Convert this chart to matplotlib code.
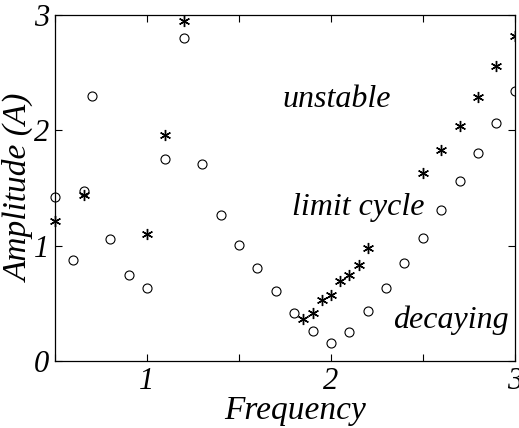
import numpy as np
import matplotlib
matplotlib.use("Agg")
import matplotlib.pyplot as plt
from matplotlib.patches import Rectangle

# circles (o)
freq_o = [0.5, 0.6, 0.66, 0.70, 0.8, 0.9, 1.0, 1.1, 1.2, 1.3, 1.4, 1.5, 1.6,
          1.7, 1.8, 1.9, 2.0, 2.1, 2.2, 2.3, 2.4, 2.5, 2.6, 2.7, 2.8, 2.9, 3.0]
amp_o = [1.42, 0.88, 1.47, 2.30, 1.06, 0.75, 0.63, 1.75, 2.80, 1.71, 1.27, 1.01, 0.81,
         0.61, 0.42, 0.26, 0.16, 0.25, 0.43, 0.63, 0.85, 1.07, 1.31, 1.56, 1.80, 2.06, 2.34]

# asterisks (*)
freq_s = [0.5, 0.66, 1.0, 1.1, 1.2, 1.85, 1.9, 1.95, 2.0, 2.05, 2.1, 2.15, 2.2,
          2.5, 2.6, 2.7, 2.8, 2.9, 3.0]
amp_s = [1.21, 1.44, 1.10, 1.96, 2.95, 0.36, 0.42, 0.53, 0.57, 0.69, 0.75, 0.83, 0.98,
         1.63, 1.83, 2.04, 2.29, 2.56, 2.82]

xticks = [0.5, 1, 1.5, 2, 2.5, 3]
xticklabels = ['', '1', '', '2', '', '3']
yticks = [0, 1, 2, 3]

font = 'Liberation Serif'

fig = plt.figure(figsize=(5.19, 4.28), dpi=100)
ax = fig.add_axes([0.106, 0.1565, 0.886, 0.8085])

l1, = ax.plot(freq_o, amp_o, 'o', mfc='none', mec='black', ms=6.5, mew=0.8)
l2, = ax.plot(freq_s, amp_s, ls='none', marker=(6, 2, 0), color='black', ms=8, mew=1.0)

# markers spill past the left edge but are cut at the right edge
for ln in (l1, l2):
    r = Rectangle((-0.05, -0.05), 1.05, 1.1, transform=ax.transAxes)
    ln.set_clip_path(r)

ax.set_xlim(0.5, 3)
ax.set_ylim(0, 3)
ax.set_xticks(xticks)
ax.set_xticklabels(xticklabels)
ax.set_yticks(yticks)
ax.tick_params(direction='in', length=5, width=0.8, top=True, right=True,
               labelsize=22, pad=4)
for lab in ax.get_xticklabels() + ax.get_yticklabels():
    lab.set_fontfamily(font)
    lab.set_fontstyle('italic')
for s in ax.spines.values():
    s.set_linewidth(0.9)

ax.set_xlabel('Frequency', fontsize=24, family=font, style='italic')
ax.set_ylabel('Amplitude (A)', fontsize=24, family=font, style='italic')
ax.xaxis.set_label_coords(0.522, -0.1)
ax.yaxis.set_label_coords(-0.043, 0.5)

ax.text(2.03, 2.20, 'unstable', fontsize=23, family=font, style='italic',
        ha='center', va='baseline')
ax.text(2.15, 1.27, 'limit cycle', fontsize=23, family=font, style='italic',
        ha='center', va='baseline')
ax.text(2.65, 0.29, 'decaying', fontsize=23, family=font, style='italic',
        ha='center', va='baseline')

fig.savefig('out.png', dpi=100)
